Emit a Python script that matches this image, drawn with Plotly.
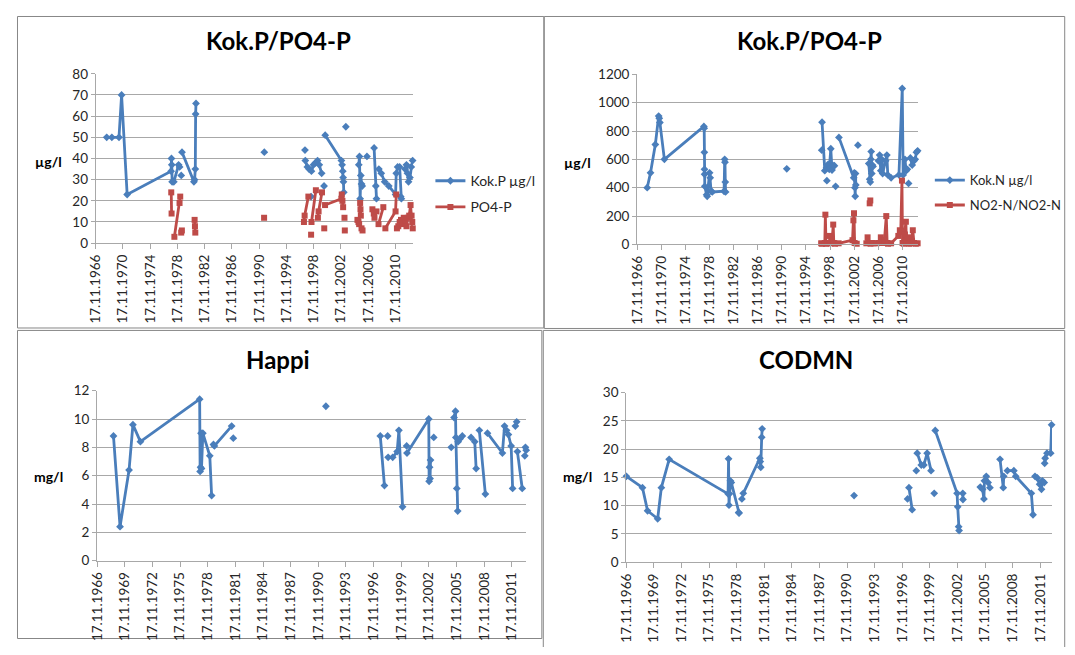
import plotly.graph_objects as go
import pandas as pd

# ---------------- data: (decimal year, value); None = gap in the line ----------------
kok_p = [
    (1968.5, 50), (1969.25, 50), (1970.3, 50), (1970.68, 70), (1971.5, 23), (1977.95, 34), (1978.0, 40),
    (1978.05, 37), (1978.1, 29), (1978.35, 29), (1979.05, 37), (1979.2, 36), None,
    (1979.44, 32), None,
    (1979.55, 43), (1981.3, 29), (1981.4, 30), (1981.5, 35), (1981.55, 61), (1981.6, 66), None,
    (1991.63, 43), None,
    (1997.6, 44), None,
    (1997.65, 39), (1997.95, 36), (1998.2, 35), (1998.55, 34), (1998.85, 37), (1999.15, 38), (1999.45, 39),
    (1999.7, 37), (2000.05, 33), None,
    (1998.5, 22), None,
    (2000.4, 27), None,
    (2000.57, 51), (2002.95, 39), (2003.05, 37), (2003.15, 34), (2003.2, 31), (2003.25, 29), (2003.3, 24), None,
    (2003.6, 55), None,
    (2005.5, 37), (2005.6, 41), (2005.7, 21), (2005.8, 32), (2005.9, 28), (2006.0, 27), None,
    (2006.7, 41), None,
    (2007.75, 45), (2008.0, 27), (2008.1, 21), None,
    (2008.45, 35), (2008.8, 33), (2009.3, 29), (2009.9, 27), (2010.9, 23), (2011.0, 33), (2011.2, 36), None,
    (2011.5, 36), (2011.65, 22), (2011.75, 21), None,
    (2012.3, 35), (2012.5, 37), (2012.65, 33), (2012.8, 29), (2013.0, 31), (2013.2, 36), (2013.4, 39),
]

po4_p = [
    (1977.97, 24), (1978.02, 14), None,
    (1978.43, 3), (1979.19, 19), (1979.29, 22), None,
    (1979.43, 5), (1979.53, 6), None,
    (1981.4, 11), (1981.45, 8), (1981.5, 5), None,
    (1991.6, 12), None,
    (1997.45, 10), (1997.55, 13), (1998.1, 22), None,
    (1998.5, 4), None,
    (1998.56, 10), (1999.2, 25), None,
    (1999.5, 12), (1999.6, 15), (2000.1, 24), None,
    (2000.43, 7), None,
    (2000.55, 18), (2002.95, 21), (2003.0, 23), (2003.1, 20), (2003.2, 17), None,
    (2003.4, 12), None,
    (2003.45, 6), None,
    (2005.3, 11), (2005.45, 10), (2005.55, 9), (2005.7, 19), (2005.75, 16), (2005.8, 13), None,
    (2005.9, 7), (2006.05, 6), None,
    (2007.5, 16), (2007.7, 14), (2007.8, 12), (2008.1, 15), None,
    (2008.4, 9), (2009.1, 17), None,
    (2009.4, 7), (2010.9, 15), (2011.0, 23), None,
    (2011.1, 7), (2011.3, 8), (2011.5, 10), (2011.7, 11), (2011.9, 9), (2012.1, 12), (2012.3, 10),
    (2012.5, 8), (2012.7, 12), (2012.9, 13), (2013.1, 18), (2013.25, 13), (2013.35, 10), (2013.42, 7),
]

kok_n = [
    (1968.55, 400), (1969.1, 505), (1969.9, 705), (1970.45, 905), (1970.55, 890), (1970.65, 860), (1971.4, 600),
    (1977.95, 832), (1978.0, 820), (1978.03, 650), (1978.05, 530), (1978.07, 495), (1978.1, 410),
    (1978.4, 350), (1978.5, 340), (1978.9, 505), (1979.0, 470), (1979.15, 375), (1979.35, 370),
    (1981.3, 375), (1981.4, 600), (1981.45, 580), (1981.5, 440), (1981.55, 370), None,
    (1991.7, 533), None,
    (1997.5, 665), None,
    (1997.55, 862), (1998.0, 520), (1998.3, 540), (1998.55, 565), (1998.75, 530), (1999.0, 675),
    (1999.2, 525), (1999.4, 555), (1999.6, 555), None,
    (1998.35, 450), None,
    (1999.8, 410), None,
    (2000.35, 755), (2002.8, 470), (2002.9, 505), (2003.0, 400), (2003.05, 340), (2003.1, 500), (2003.15, 420), None,
    (2003.5, 700), None,
    (2005.3, 570), (2005.45, 460), (2005.55, 440), (2005.65, 600), (2005.7, 655), (2005.8, 500),
    (2005.9, 560), (2006.0, 550), None,
    (2006.9, 590), (2007.1, 630), (2007.3, 520), (2007.45, 600), (2007.6, 500), (2008.1, 590),
    (2008.3, 630), (2008.45, 490), None,
    (2009.0, 470), (2010.3, 490), (2010.85, 1100), (2011.0, 490), (2011.3, 600), (2011.5, 520),
    (2011.7, 530), None,
    (2011.9, 430), None,
    (2012.2, 610), (2012.5, 560), (2012.8, 590), (2013.0, 600), (2013.2, 650), (2013.4, 660),
]

no2_n = [
    (1997.4, 8), (1997.55, 5), (1998.0, 10), (1998.1, 210), (1998.2, 5), (1998.5, 8), (1998.75, 10),
    (1998.85, 60), (1999.0, 8), (1999.2, 10), (1999.4, 140), (1999.5, 10), (1999.7, 5), (2000.3, 8),
    (2002.6, 30), (2002.75, 170), (2002.85, 220), (2002.95, 10), (2003.3, 5), None,
    (2005.45, 290), (2005.55, 310), None,
    (2004.9, 8), (2005.1, 50), (2005.25, 10), (2005.6, 5), (2005.9, 10), (2006.1, 8), None,
    (2006.6, 8), (2007.0, 10), (2007.3, 50), (2007.5, 10), (2007.9, 30), (2008.2, 200), (2008.35, 10),
    (2008.5, 5), (2009.0, 8), (2010.2, 60), (2010.45, 100), (2010.6, 90), (2010.8, 450), (2010.9, 10),
    (2011.1, 5), (2011.3, 70), (2011.45, 160), (2011.55, 10), (2011.8, 50), (2012.0, 5), (2012.3, 8),
    (2012.6, 100), (2012.8, 10), (2013.1, 5), (2013.4, 8),
]

happi = [
    (1968.65, 8.8), (1969.36, 2.4), (1970.34, 6.4), (1970.76, 9.6), (1971.57, 8.4), (1978.0, 11.4),
    (1978.05, 6.3), (1978.1, 6.6), (1978.15, 9.0), (1978.2, 6.5), (1978.35, 9.0), (1979.1, 7.4),
    (1979.3, 4.6), None,
    (1979.5, 8.2), (1979.6, 8.1), (1981.47, 9.5), None,
    (1981.65, 8.65), None,
    (1991.7, 10.9), None,
    (1997.6, 8.8), (1998.05, 5.3), None,
    (1998.4, 8.8), None,
    (1998.45, 7.3), (1998.95, 7.3), (1999.43, 7.7), (1999.62, 9.2), (2000.02, 3.8), None,
    (2000.46, 8.1), None,
    (2000.5, 7.6), (2002.86, 10.0), (2002.9, 5.6), (2002.95, 6.6), (2003.0, 5.8), (2003.05, 7.1), None,
    (2003.4, 8.7), None,
    (2005.3, 8.0), None,
    (2005.6, 10.1), (2005.76, 10.55), (2005.8, 8.7), (2005.9, 5.1), (2006.0, 3.5), None,
    (2006.05, 8.4), (2006.25, 8.6), (2006.5, 8.8), None,
    (2007.45, 8.7), (2007.85, 8.4), (2008.0, 6.5), None,
    (2008.35, 9.2), (2009.0, 4.7), None,
    (2009.23, 9.0), (2010.85, 7.6), (2011.08, 9.5), (2011.3, 9.2), (2011.5, 8.9), (2011.8, 8.1), (2011.96, 5.1), None,
    (2012.26, 9.5), None,
    (2012.4, 9.8), None,
    (2012.48, 7.7), (2013.0, 5.1), None,
    (2013.28, 7.4), None,
    (2013.35, 8.0), (2013.43, 7.8),
]

codmn = [
    (1966.9, 15.2), (1968.65, 13.2), (1969.2, 9.1), (1970.3, 7.7), (1970.7, 13.2), (1971.55, 18.2),
    (1977.95, 12.1), (1978.0, 18.3), (1978.05, 10.1), (1978.1, 12.1), (1978.2, 14.4), (1978.3, 14.1),
    (1979.1, 8.8), (1979.15, 8.7), None,
    (1979.45, 11.2), None,
    (1979.6, 12.2), (1981.4, 18.4), (1981.45, 17.8), (1981.5, 16.8), (1981.6, 22.1), (1981.65, 23.6), None,
    (1991.64, 11.8), None,
    (1997.45, 11.2), None,
    (1997.6, 13.2), (1997.95, 9.3), None,
    (1998.4, 16.2), None,
    (1998.5, 19.3), (1998.94, 17.2), (1999.22, 17.2), (1999.58, 19.3), (2000.0, 16.2), None,
    (2000.35, 12.2), None,
    (2000.46, 23.3), (2002.83, 12.2), (2002.9, 9.8), (2003.0, 6.3), (2003.05, 5.6), None,
    (2003.45, 12.2), (2003.47, 11.1), None,
    (2005.35, 13.3), (2005.6, 12.9), (2005.75, 11.2), (2005.8, 14.4), (2006.0, 15.2), (2006.2, 14.1),
    (2006.4, 13.2), None,
    (2007.5, 18.2), (2007.85, 13.2), (2007.9, 15.2), None,
    (2008.3, 16.2), (2009.0, 16.2), (2009.2, 15.2), (2010.9, 12.2), (2011.08, 8.4), None,
    (2011.3, 15.2), (2011.55, 14.9), (2011.8, 13.8), (2012.0, 12.9), (2012.1, 14.4), (2012.3, 14.1), None,
    (2012.35, 17.5), (2012.4, 18.4), (2012.6, 19.3), (2013.0, 19.3), (2013.1, 24.3), None,
]

titles = ["Kok.P/PO4-P", "Kok.P/PO4-P", "Happi", "CODMN"]
unit_labels = ["µg/l", "µg/l", "mg/l", "mg/l"]
series_names = ["Kok.P µg/l", "PO4-P", "Kok.N µg/l", "NO2-N/NO2-N", "Happi", "CODMN"]
y_max = [80, 1200, 12, 30]
y_step = [10, 200, 2, 5]
YR0, YR1 = 1966.88, 2013.43   # date span of the x axes (17.11.1966 ...)

BLUE = "#4A7EBB"
RED = "#BE4B48"
GRID = "#A8A8A8"
TXT = "#262626"
FONT = "Lato"

# page pixel geometry (the browser body keeps its default 8px margin)
OFF = 8
PAGE_W, PAGE_H = 1075, 655
W, H = PAGE_W - 2 * OFF, PAGE_H - 2 * OFF


def px(xp):
    return min(max((xp - OFF) / W, 0.0), 1.0)


def py(yp):
    return min(max(1 - (yp - OFF) / H, 0.0), 1.0)


def yr_to_date(yr):
    y0 = int(yr)
    d = pd.Timestamp(y0, 1, 1) + pd.Timedelta(days=(yr - y0) * 365.25)
    return d.strftime("%Y-%m-%d")


def to_xy(series):
    xs, ys = [], []
    last = None
    for item in series:
        if item is None:
            xs.append(last)
            ys.append(None)
            continue
        yr, v = item
        last = yr_to_date(yr)
        xs.append(last)
        ys.append(v)
    return xs, ys


# plot areas in page pixels: left, right, top, bottom
areas = [(88.5, 413, 67.3, 241), (642.5, 929.7, 67.8, 242.3), (90, 529, 392.3, 566.7), (631.3, 1069.7, 394.3, 568.3)]

fig = go.Figure()


def add(series, name, color, symbol, size, idx, legend=None):
    xs, ys = to_xy(series)
    sfx = "" if idx == 0 else str(idx + 1)
    fig.add_trace(go.Scatter(
        x=xs, y=ys, name=name, mode="lines+markers", connectgaps=False, cliponaxis=False,
        line=dict(color=color, width=2.8),
        marker=dict(color=color, symbol=symbol, size=size, line=dict(width=0)),
        xaxis="x" + sfx, yaxis="y" + sfx,
        showlegend=legend is not None, legend=legend if legend else "legend",
        legendgroup=name,
    ))


add(kok_p, series_names[0], BLUE, "diamond", 6, 0, "legend")
add(po4_p, series_names[1], RED, "square", 6, 0, "legend")
add(kok_n, series_names[2], BLUE, "diamond", 6, 1, "legend2")
add(no2_n, series_names[3], RED, "square", 6, 1, "legend2")
add(happi, series_names[4], BLUE, "diamond", 6, 2)
add(codmn, series_names[5], BLUE, "diamond", 6, 3)

layout = dict(
    width=W, height=H, autosize=False,
    margin=dict(l=0, r=0, t=0, b=0),
    paper_bgcolor="white", plot_bgcolor="white",
    font=dict(family=FONT, size=13.5, color=TXT),
)

annotations = []
shapes = []
for i, (l, r, t, b) in enumerate(areas):
    sfx = "" if i == 0 else str(i + 1)
    dtick = "M48" if i < 2 else "M36"
    # clip the plot area to the figure and shorten the date range in proportion
    r_clip = min(r, OFF + W)
    yr_end = YR0 + (r_clip - l) / (r - l) * (YR1 - YR0)
    layout["xaxis" + sfx] = dict(
        domain=[px(l), px(r_clip)], anchor="y" + sfx, type="date",
        range=["1966-11-17", yr_to_date(yr_end)], tick0="1966-11-17", dtick=dtick, tickformat="%d.%m.%Y",
        tickangle=-90, showgrid=False, showline=True, linecolor=GRID, linewidth=1,
        ticks="outside", ticklen=5, tickcolor=GRID, zeroline=False,
        tickfont=dict(family=FONT, size=13.5, color=TXT),
    )
    layout["yaxis" + sfx] = dict(
        domain=[py(b), py(t)], anchor="x" + sfx,
        range=[0, y_max[i]], dtick=y_step[i], tick0=0,
        showgrid=True, gridcolor=GRID, gridwidth=1,
        showline=True, linecolor=GRID, linewidth=1,
        ticks="outside", ticklen=4, tickcolor=GRID, zeroline=False,
        tickfont=dict(family=FONT, size=13.5, color=TXT),
    )

# titles and unit labels (page pixels)
title_pos = [(276, 33), (819, 33), (275, 360), (815, 360)]
unit_pos = [(40, 157), (582, 158), (40, 480), (581, 480)]
for i in range(4):
    annotations.append(dict(
        text="<b>%s</b>" % titles[i], x=px(title_pos[i][0]), y=py(title_pos[i][1]),
        xref="paper", yref="paper", showarrow=False, xanchor="center", yanchor="middle",
        font=dict(family=FONT, size=24, color="black"),
    ))
    annotations.append(dict(
        text="<b>%s</b>" % unit_labels[i], x=px(unit_pos[i][0]), y=py(unit_pos[i][1]),
        xref="paper", yref="paper", showarrow=False, xanchor="center", yanchor="middle",
        font=dict(family=FONT, size=14, color="black"),
    ))

# panel borders (page pixels; edges that fall outside the page are kept at its edge)
borders = [(8.5, 8.5, 547, 328), (547.5, 8.5, 1080, 328.5), (8.5, 330.5, 545, 646.5), (546.5, 330.5, 1080, 660)]
for (x0, y0, x1, y1) in borders:
    shapes.append(dict(type="rect", xref="paper", yref="paper",
                       x0=(x0 - OFF) / W, x1=(x1 - OFF) / W, y0=1 - (y1 - OFF) / H, y1=1 - (y0 - OFF) / H,
                       line=dict(color="#878787", width=1), fillcolor="rgba(0,0,0,0)", layer="below"))

layout["annotations"] = annotations
layout["shapes"] = shapes
legend_common = dict(xanchor="left", yanchor="top", bgcolor="rgba(0,0,0,0)", borderwidth=0,
                     itemwidth=30, tracegroupgap=5, traceorder="grouped")
layout["legend"] = dict(x=px(431), y=py(161), font=dict(family=FONT, size=14, color=TXT), **legend_common)
layout["legend2"] = dict(x=px(942), y=py(161), font=dict(family=FONT, size=13, color=TXT), **legend_common)

fig.update_layout(**layout)

fig.write_html("out.html", config={"displayModeBar": False, "responsive": False})
